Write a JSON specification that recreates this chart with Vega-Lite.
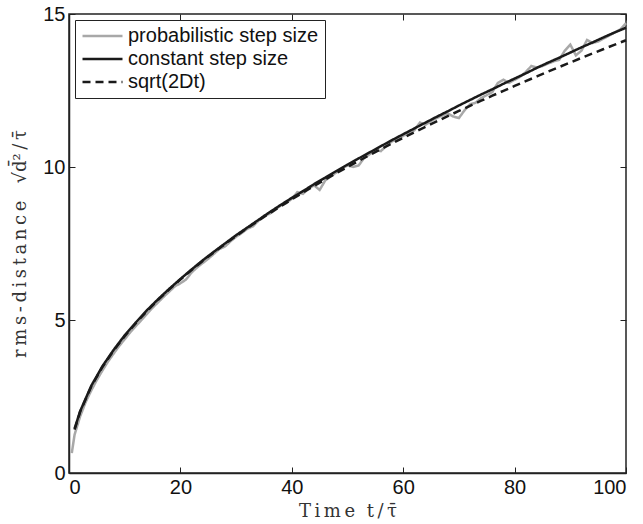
{
  "$schema": "https://vega.github.io/schema/vega-lite/v6.json",
  "width": 557,
  "height": 459,
  "autosize": {"type": "none"},
  "padding": {"left": 69, "top": 14, "right": 17, "bottom": 51},
  "background": "white",
  "config": {
    "view": {"stroke": "#222222", "strokeWidth": 1.5},
    "font": "Liberation Sans",
    "axis": {
      "grid": false,
      "domainColor": "#222222",
      "domainWidth": 1.5,
      "tickColor": "#222222",
      "tickWidth": 1,
      "tickSize": -6,
      "labelFont": "Liberation Sans",
      "labelFontSize": 20,
      "labelColor": "#111111",
      "titleFont": "DejaVu Serif",
      "titleFontWeight": "normal",
      "titleFontSize": 18,
      "titleColor": "#333333"
    },
    "legend": {
      "labelFont": "Liberation Sans",
      "labelFontSize": 20,
      "labelColor": "#111111",
      "labelLimit": 400,
      "strokeColor": "#222222",
      "fillColor": "white",
      "padding": 6,
      "symbolType": "stroke",
      "symbolSize": 1600,
      "symbolStrokeWidth": 2.5,
      "clipHeight": 20,
      "rowPadding": 3,
      "labelOffset": 4,
      "title": null
    }
  },
  "data": {
    "values": [
      {"t": 0.5, "v": 0.65, "s": "probabilistic step size"},
      {"t": 1, "v": 1.25, "s": "probabilistic step size"},
      {"t": 2, "v": 1.85, "s": "probabilistic step size"},
      {"t": 3, "v": 2.32, "s": "probabilistic step size"},
      {"t": 4, "v": 2.7, "s": "probabilistic step size"},
      {"t": 5, "v": 3.04, "s": "probabilistic step size"},
      {"t": 6, "v": 3.35, "s": "probabilistic step size"},
      {"t": 7, "v": 3.64, "s": "probabilistic step size"},
      {"t": 8, "v": 3.9, "s": "probabilistic step size"},
      {"t": 9, "v": 4.15, "s": "probabilistic step size"},
      {"t": 10, "v": 4.37, "s": "probabilistic step size"},
      {"t": 11, "v": 4.6, "s": "probabilistic step size"},
      {"t": 12, "v": 4.8, "s": "probabilistic step size"},
      {"t": 13, "v": 5.0, "s": "probabilistic step size"},
      {"t": 14, "v": 5.2, "s": "probabilistic step size"},
      {"t": 15, "v": 5.4, "s": "probabilistic step size"},
      {"t": 16, "v": 5.58, "s": "probabilistic step size"},
      {"t": 17, "v": 5.76, "s": "probabilistic step size"},
      {"t": 18, "v": 5.93, "s": "probabilistic step size"},
      {"t": 19, "v": 6.1, "s": "probabilistic step size"},
      {"t": 20, "v": 6.2, "s": "probabilistic step size"},
      {"t": 21, "v": 6.32, "s": "probabilistic step size"},
      {"t": 22, "v": 6.55, "s": "probabilistic step size"},
      {"t": 23, "v": 6.72, "s": "probabilistic step size"},
      {"t": 24, "v": 6.86, "s": "probabilistic step size"},
      {"t": 25, "v": 7.0, "s": "probabilistic step size"},
      {"t": 26, "v": 7.16, "s": "probabilistic step size"},
      {"t": 27, "v": 7.32, "s": "probabilistic step size"},
      {"t": 28, "v": 7.4, "s": "probabilistic step size"},
      {"t": 29, "v": 7.57, "s": "probabilistic step size"},
      {"t": 30, "v": 7.72, "s": "probabilistic step size"},
      {"t": 31, "v": 7.84, "s": "probabilistic step size"},
      {"t": 32, "v": 7.98, "s": "probabilistic step size"},
      {"t": 33, "v": 8.06, "s": "probabilistic step size"},
      {"t": 34, "v": 8.24, "s": "probabilistic step size"},
      {"t": 35, "v": 8.4, "s": "probabilistic step size"},
      {"t": 36, "v": 8.47, "s": "probabilistic step size"},
      {"t": 37, "v": 8.6, "s": "probabilistic step size"},
      {"t": 38, "v": 8.74, "s": "probabilistic step size"},
      {"t": 39, "v": 8.82, "s": "probabilistic step size"},
      {"t": 40, "v": 8.96, "s": "probabilistic step size"},
      {"t": 41, "v": 9.18, "s": "probabilistic step size"},
      {"t": 42, "v": 9.12, "s": "probabilistic step size"},
      {"t": 43, "v": 9.3, "s": "probabilistic step size"},
      {"t": 44, "v": 9.4, "s": "probabilistic step size"},
      {"t": 45, "v": 9.25, "s": "probabilistic step size"},
      {"t": 46, "v": 9.56, "s": "probabilistic step size"},
      {"t": 47, "v": 9.7, "s": "probabilistic step size"},
      {"t": 48, "v": 9.82, "s": "probabilistic step size"},
      {"t": 49, "v": 9.95, "s": "probabilistic step size"},
      {"t": 50, "v": 10.05, "s": "probabilistic step size"},
      {"t": 51, "v": 10.0, "s": "probabilistic step size"},
      {"t": 52, "v": 10.05, "s": "probabilistic step size"},
      {"t": 53, "v": 10.3, "s": "probabilistic step size"},
      {"t": 54, "v": 10.42, "s": "probabilistic step size"},
      {"t": 55, "v": 10.55, "s": "probabilistic step size"},
      {"t": 56, "v": 10.52, "s": "probabilistic step size"},
      {"t": 57, "v": 10.7, "s": "probabilistic step size"},
      {"t": 58, "v": 10.84, "s": "probabilistic step size"},
      {"t": 59, "v": 10.9, "s": "probabilistic step size"},
      {"t": 60, "v": 11.02, "s": "probabilistic step size"},
      {"t": 61, "v": 11.1, "s": "probabilistic step size"},
      {"t": 62, "v": 11.2, "s": "probabilistic step size"},
      {"t": 63, "v": 11.45, "s": "probabilistic step size"},
      {"t": 64, "v": 11.38, "s": "probabilistic step size"},
      {"t": 65, "v": 11.5, "s": "probabilistic step size"},
      {"t": 66, "v": 11.6, "s": "probabilistic step size"},
      {"t": 67, "v": 11.68, "s": "probabilistic step size"},
      {"t": 68, "v": 11.75, "s": "probabilistic step size"},
      {"t": 69, "v": 11.65, "s": "probabilistic step size"},
      {"t": 70, "v": 11.6, "s": "probabilistic step size"},
      {"t": 71, "v": 11.85, "s": "probabilistic step size"},
      {"t": 72, "v": 12.05, "s": "probabilistic step size"},
      {"t": 73, "v": 12.1, "s": "probabilistic step size"},
      {"t": 74, "v": 12.25, "s": "probabilistic step size"},
      {"t": 75, "v": 12.35, "s": "probabilistic step size"},
      {"t": 76, "v": 12.45, "s": "probabilistic step size"},
      {"t": 77, "v": 12.75, "s": "probabilistic step size"},
      {"t": 78, "v": 12.85, "s": "probabilistic step size"},
      {"t": 79, "v": 12.75, "s": "probabilistic step size"},
      {"t": 80, "v": 12.85, "s": "probabilistic step size"},
      {"t": 81, "v": 12.95, "s": "probabilistic step size"},
      {"t": 82, "v": 13.1, "s": "probabilistic step size"},
      {"t": 83, "v": 13.3, "s": "probabilistic step size"},
      {"t": 84, "v": 13.25, "s": "probabilistic step size"},
      {"t": 85, "v": 13.3, "s": "probabilistic step size"},
      {"t": 86, "v": 13.38, "s": "probabilistic step size"},
      {"t": 87, "v": 13.45, "s": "probabilistic step size"},
      {"t": 88, "v": 13.5, "s": "probabilistic step size"},
      {"t": 89, "v": 13.8, "s": "probabilistic step size"},
      {"t": 90, "v": 14.0, "s": "probabilistic step size"},
      {"t": 91, "v": 13.65, "s": "probabilistic step size"},
      {"t": 92, "v": 13.8, "s": "probabilistic step size"},
      {"t": 93, "v": 14.15, "s": "probabilistic step size"},
      {"t": 94, "v": 14.05, "s": "probabilistic step size"},
      {"t": 95, "v": 14.1, "s": "probabilistic step size"},
      {"t": 96, "v": 14.2, "s": "probabilistic step size"},
      {"t": 97, "v": 14.3, "s": "probabilistic step size"},
      {"t": 98, "v": 14.4, "s": "probabilistic step size"},
      {"t": 99, "v": 14.5, "s": "probabilistic step size"},
      {"t": 100, "v": 14.7, "s": "probabilistic step size"},
      {"t": 1, "v": 1.414, "s": "sqrt(2Dt)"},
      {"t": 2, "v": 2.0, "s": "sqrt(2Dt)"},
      {"t": 4, "v": 2.828, "s": "sqrt(2Dt)"},
      {"t": 6, "v": 3.464, "s": "sqrt(2Dt)"},
      {"t": 8, "v": 4.0, "s": "sqrt(2Dt)"},
      {"t": 10, "v": 4.472, "s": "sqrt(2Dt)"},
      {"t": 12, "v": 4.899, "s": "sqrt(2Dt)"},
      {"t": 14, "v": 5.292, "s": "sqrt(2Dt)"},
      {"t": 16, "v": 5.657, "s": "sqrt(2Dt)"},
      {"t": 18, "v": 6.0, "s": "sqrt(2Dt)"},
      {"t": 20, "v": 6.325, "s": "sqrt(2Dt)"},
      {"t": 22, "v": 6.633, "s": "sqrt(2Dt)"},
      {"t": 24, "v": 6.928, "s": "sqrt(2Dt)"},
      {"t": 26, "v": 7.211, "s": "sqrt(2Dt)"},
      {"t": 28, "v": 7.483, "s": "sqrt(2Dt)"},
      {"t": 30, "v": 7.746, "s": "sqrt(2Dt)"},
      {"t": 32, "v": 8.0, "s": "sqrt(2Dt)"},
      {"t": 34, "v": 8.246, "s": "sqrt(2Dt)"},
      {"t": 36, "v": 8.485, "s": "sqrt(2Dt)"},
      {"t": 38, "v": 8.718, "s": "sqrt(2Dt)"},
      {"t": 40, "v": 8.944, "s": "sqrt(2Dt)"},
      {"t": 42, "v": 9.165, "s": "sqrt(2Dt)"},
      {"t": 44, "v": 9.381, "s": "sqrt(2Dt)"},
      {"t": 46, "v": 9.592, "s": "sqrt(2Dt)"},
      {"t": 48, "v": 9.798, "s": "sqrt(2Dt)"},
      {"t": 50, "v": 10.0, "s": "sqrt(2Dt)"},
      {"t": 52, "v": 10.198, "s": "sqrt(2Dt)"},
      {"t": 54, "v": 10.392, "s": "sqrt(2Dt)"},
      {"t": 56, "v": 10.583, "s": "sqrt(2Dt)"},
      {"t": 58, "v": 10.77, "s": "sqrt(2Dt)"},
      {"t": 60, "v": 10.954, "s": "sqrt(2Dt)"},
      {"t": 62, "v": 11.136, "s": "sqrt(2Dt)"},
      {"t": 64, "v": 11.314, "s": "sqrt(2Dt)"},
      {"t": 66, "v": 11.489, "s": "sqrt(2Dt)"},
      {"t": 68, "v": 11.662, "s": "sqrt(2Dt)"},
      {"t": 70, "v": 11.832, "s": "sqrt(2Dt)"},
      {"t": 72, "v": 12.0, "s": "sqrt(2Dt)"},
      {"t": 74, "v": 12.166, "s": "sqrt(2Dt)"},
      {"t": 76, "v": 12.329, "s": "sqrt(2Dt)"},
      {"t": 78, "v": 12.49, "s": "sqrt(2Dt)"},
      {"t": 80, "v": 12.649, "s": "sqrt(2Dt)"},
      {"t": 82, "v": 12.806, "s": "sqrt(2Dt)"},
      {"t": 84, "v": 12.961, "s": "sqrt(2Dt)"},
      {"t": 86, "v": 13.115, "s": "sqrt(2Dt)"},
      {"t": 88, "v": 13.266, "s": "sqrt(2Dt)"},
      {"t": 90, "v": 13.416, "s": "sqrt(2Dt)"},
      {"t": 92, "v": 13.565, "s": "sqrt(2Dt)"},
      {"t": 94, "v": 13.711, "s": "sqrt(2Dt)"},
      {"t": 96, "v": 13.856, "s": "sqrt(2Dt)"},
      {"t": 98, "v": 14.0, "s": "sqrt(2Dt)"},
      {"t": 100, "v": 14.142, "s": "sqrt(2Dt)"},
      {"t": 1, "v": 1.45, "s": "constant step size"},
      {"t": 2, "v": 2.02, "s": "constant step size"},
      {"t": 4, "v": 2.85, "s": "constant step size"},
      {"t": 6, "v": 3.49, "s": "constant step size"},
      {"t": 8, "v": 4.02, "s": "constant step size"},
      {"t": 10, "v": 4.5, "s": "constant step size"},
      {"t": 12, "v": 4.92, "s": "constant step size"},
      {"t": 14, "v": 5.32, "s": "constant step size"},
      {"t": 16, "v": 5.68, "s": "constant step size"},
      {"t": 18, "v": 6.02, "s": "constant step size"},
      {"t": 20, "v": 6.34, "s": "constant step size"},
      {"t": 22, "v": 6.65, "s": "constant step size"},
      {"t": 24, "v": 6.95, "s": "constant step size"},
      {"t": 26, "v": 7.23, "s": "constant step size"},
      {"t": 28, "v": 7.5, "s": "constant step size"},
      {"t": 30, "v": 7.77, "s": "constant step size"},
      {"t": 32, "v": 8.02, "s": "constant step size"},
      {"t": 34, "v": 8.27, "s": "constant step size"},
      {"t": 36, "v": 8.52, "s": "constant step size"},
      {"t": 38, "v": 8.76, "s": "constant step size"},
      {"t": 40, "v": 8.99, "s": "constant step size"},
      {"t": 42, "v": 9.21, "s": "constant step size"},
      {"t": 44, "v": 9.44, "s": "constant step size"},
      {"t": 46, "v": 9.65, "s": "constant step size"},
      {"t": 48, "v": 9.87, "s": "constant step size"},
      {"t": 50, "v": 10.08, "s": "constant step size"},
      {"t": 52, "v": 10.28, "s": "constant step size"},
      {"t": 54, "v": 10.48, "s": "constant step size"},
      {"t": 56, "v": 10.68, "s": "constant step size"},
      {"t": 58, "v": 10.88, "s": "constant step size"},
      {"t": 60, "v": 11.07, "s": "constant step size"},
      {"t": 62, "v": 11.26, "s": "constant step size"},
      {"t": 64, "v": 11.45, "s": "constant step size"},
      {"t": 66, "v": 11.64, "s": "constant step size"},
      {"t": 68, "v": 11.82, "s": "constant step size"},
      {"t": 70, "v": 12.01, "s": "constant step size"},
      {"t": 72, "v": 12.19, "s": "constant step size"},
      {"t": 74, "v": 12.37, "s": "constant step size"},
      {"t": 76, "v": 12.54, "s": "constant step size"},
      {"t": 78, "v": 12.72, "s": "constant step size"},
      {"t": 80, "v": 12.89, "s": "constant step size"},
      {"t": 82, "v": 13.06, "s": "constant step size"},
      {"t": 84, "v": 13.24, "s": "constant step size"},
      {"t": 86, "v": 13.41, "s": "constant step size"},
      {"t": 88, "v": 13.57, "s": "constant step size"},
      {"t": 90, "v": 13.74, "s": "constant step size"},
      {"t": 92, "v": 13.91, "s": "constant step size"},
      {"t": 94, "v": 14.07, "s": "constant step size"},
      {"t": 96, "v": 14.24, "s": "constant step size"},
      {"t": 98, "v": 14.4, "s": "constant step size"},
      {"t": 100, "v": 14.55, "s": "constant step size"}
    ]
  },
  "layer": [
    {
      "mark": {"type": "line", "opacity": 0},
      "encoding": {
        "x": {"field": "t", "type": "quantitative", "scale": {"domain": [0, 100], "nice": false},
              "axis": {"orient": "top", "labels": false, "title": null, "values": [0, 20, 40, 60, 80, 100], "domain": false}},
        "y": {"field": "v", "type": "quantitative", "scale": {"domain": [0, 15], "nice": false},
              "axis": {"orient": "right", "labels": false, "title": null, "values": [0, 5, 10, 15], "domain": false}}
      }
    },
    {
      "mark": {"type": "line", "strokeWidth": 2.5, "strokeCap": "butt"},
      "encoding": {
        "x": {"field": "t", "type": "quantitative",
              "axis": {"orient": "bottom", "title": "T\u2009i\u2009m\u2009e\u00a0\u00a0t\u2009/\u2009τ̄", "values": [0, 20, 40, 60, 80, 100], "labelPadding": 10, "titlePadding": 5}},
        "y": {"field": "v", "type": "quantitative",
              "axis": {"orient": "left", "title": "r\u2009m\u2009s\u2009-\u2009d\u2009i\u2009s\u2009t\u2009a\u2009n\u2009c\u2009e\u00a0\u00a0\u00a0√d̄²\u2009/\u2009τ̄", "values": [0, 5, 10, 15], "labelPadding": 10, "titlePadding": 13}},
        "color": {"field": "s", "type": "nominal",
                  "scale": {"domain": ["probabilistic step size", "constant step size", "sqrt(2Dt)"], "range": ["#a8a8a8", "#1a1a1a", "#1a1a1a"]},
                  "legend": {"orient": "top-left", "offset": 6}},
        "strokeDash": {"field": "s", "type": "nominal",
                  "scale": {"domain": ["probabilistic step size", "constant step size", "sqrt(2Dt)"], "range": [[1, 0], [1, 0], [8, 5]]},
                  "legend": {"orient": "top-left", "offset": 6}}
      }
    }
  ],
  "resolve": {"axis": {"x": "independent", "y": "independent"}}
}
